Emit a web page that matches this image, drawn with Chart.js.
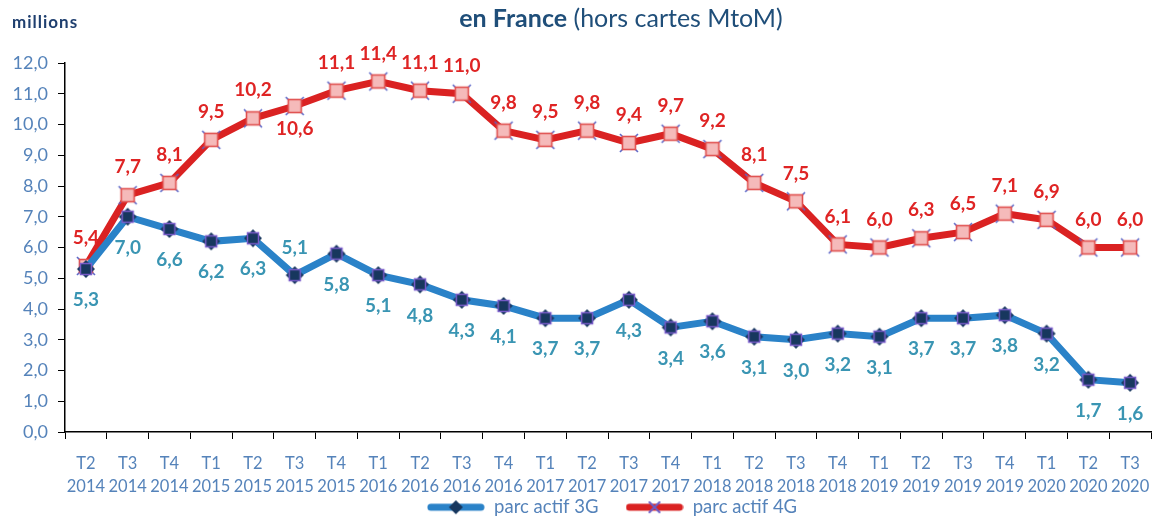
<!DOCTYPE html>
<html>
<head>
<meta charset="utf-8">
<script src="https://cdn.jsdelivr.net/npm/chart.js@4.4.1/dist/chart.umd.min.js"></script>
<style>
  html, body { margin: 0; padding: 0; background: #fff; }
  #wrap { position: relative; width: 1168px; height: 518px; }
  #title { position: absolute; top: 2px; left: 0; width: 1242px; text-align: center;
           font-family: Lato, "Open Sans", sans-serif; font-size: 25px; color: #1F4E79; }
  #title b { font-weight: 700; }
  #unit { position: absolute; top: 11px; left: 12px; font-family: Lato, sans-serif;
          font-weight: 700; font-size: 17px; letter-spacing: 1px; color: #1F3F6F; }
  canvas { position: absolute; top: 0; left: 0; }
</style>
</head>
<body>
<div id="wrap">
  <canvas id="c" width="1168" height="518"></canvas>
  <div id="title"><b>en France</b> (hors cartes MtoM)</div>
  <div id="unit">millions</div>
</div>
<script>
// ---- data ----
const quarters = ['T2','T3','T4','T1','T2','T3','T4','T1','T2','T3','T4','T1','T2','T3','T4','T1','T2','T3','T4','T1','T2','T3','T4','T1','T2','T3'];
const years    = ['2014','2014','2014','2015','2015','2015','2015','2016','2016','2016','2016','2017','2017','2017','2017','2018','2018','2018','2018','2019','2019','2019','2019','2020','2020','2020'];
const parc3G = [5.3, 7.0, 6.6, 6.2, 6.3, 5.1, 5.8, 5.1, 4.8, 4.3, 4.1, 3.7, 3.7, 4.3, 3.4, 3.6, 3.1, 3.0, 3.2, 3.1, 3.7, 3.7, 3.8, 3.2, 1.7, 1.6];
const parc4G = [5.4, 7.7, 8.1, 9.5, 10.2, 10.6, 11.1, 11.4, 11.1, 11.0, 9.8, 9.5, 9.8, 9.4, 9.7, 9.2, 8.1, 7.5, 6.1, 6.0, 6.3, 6.5, 7.1, 6.9, 6.0, 6.0];
const seriesNames = ['parc actif 3G', 'parc actif 4G'];
const yTicks = [0,1,2,3,4,5,6,7,8,9,10,11,12];

const labels = quarters.map((q, i) => [q, years[i]]);
const fmt = v => v.toFixed(1).replace('.', ',');

// ---- marker images ----
function mk(w, h, draw) { const c = document.createElement('canvas'); c.width = w; c.height = h; draw(c.getContext('2d'), w, h); return c; }
function draw3G(ctx, cx, cy) {
  ctx.fillStyle = '#17375E';
  ctx.beginPath(); ctx.moveTo(cx, cy - 9); ctx.lineTo(cx + 9, cy); ctx.lineTo(cx, cy + 9); ctx.lineTo(cx - 9, cy); ctx.closePath(); ctx.fill();
  ctx.fillStyle = '#17375E'; ctx.strokeStyle = '#7A5CCB'; ctx.lineWidth = 1.5;
  ctx.fillRect(cx - 5.5, cy - 5.5, 11, 11); ctx.strokeRect(cx - 5.5, cy - 5.5, 11, 11);
}
function draw4G(ctx, cx, cy) {
  ctx.strokeStyle = '#5A66C8'; ctx.lineWidth = 1.6;
  ctx.beginPath(); ctx.moveTo(cx - 9, cy - 9); ctx.lineTo(cx + 9, cy + 9); ctx.moveTo(cx + 9, cy - 9); ctx.lineTo(cx - 9, cy + 9); ctx.stroke();
  ctx.fillStyle = '#F5BABA'; ctx.strokeStyle = '#E0504F'; ctx.lineWidth = 1.6;
  ctx.fillRect(cx - 6.5, cy - 6.5, 13, 13); ctx.strokeRect(cx - 6.5, cy - 6.5, 13, 13);
}
const m3G = mk(20, 20, (c) => draw3G(c, 10, 10));
const m4G = mk(22, 22, (c) => draw4G(c, 11, 11));
const leg3G = mk(58, 20, (c) => { c.strokeStyle = '#2A82C8'; c.lineWidth = 7; c.lineCap = 'round'; c.beginPath(); c.moveTo(4, 10); c.lineTo(54, 10); c.stroke();
  c.fillStyle = '#17375E'; c.beginPath(); c.moveTo(29, 3); c.lineTo(36, 10); c.lineTo(29, 17); c.lineTo(22, 10); c.closePath(); c.fill(); });
const leg4G = mk(58, 20, (c) => { c.strokeStyle = '#DA2222'; c.lineWidth = 7; c.lineCap = 'round'; c.beginPath(); c.moveTo(4, 10); c.lineTo(54, 10); c.stroke();
  c.strokeStyle = '#6A5CC8'; c.lineWidth = 2; c.beginPath(); c.moveTo(24, 5); c.lineTo(34, 15); c.moveTo(34, 5); c.lineTo(24, 15); c.stroke(); });

const FONT = 'Lato, "Open Sans", sans-serif';
const TICK_COLOR = '#5583BA';
const flipIdx = [5];

const valueLabels = {
  id: 'valueLabels',
  afterDatasetsDraw(chart) {
    const ctx = chart.ctx;
    ctx.save();
    ctx.font = 'bold 19px ' + FONT;
    ctx.textAlign = 'center';
    ctx.textBaseline = 'middle';
    chart.data.datasets.forEach((ds, di) => {
      const meta = chart.getDatasetMeta(di);
      meta.data.forEach((pt, i) => {
        let below = ds.labelBelow;
        if (flipIdx.includes(i)) below = !below;
        const dy = below ? (di === 0 ? 31 : 23) : (di === 0 ? -27 : -28);
        ctx.fillStyle = ds.labelColor;
        ctx.fillText(fmt(ds.data[i]), pt.x, pt.y + dy);
      });
    });
    ctx.restore();
  }
};

// move the legend box to where the reference places it
const legendPlace = {
  id: 'legendPlace',
  beforeDraw(chart) {
    const lg = chart.legend;
    if (!lg) return;
    const dx = 31;
    lg.left += dx; lg.right += dx;
    const h = 47;
    lg.top = 471; lg.bottom = lg.top + h; lg.height = h;
  }
};

new Chart(document.getElementById('c'), {
  type: 'line',
  data: {
    labels: labels,
    datasets: [
      { label: seriesNames[0], data: parc3G, borderColor: '#2A82C8', backgroundColor: '#2A82C8', borderWidth: 7,
        pointStyle: m3G, pointRadius: 9, pointHoverRadius: 9, tension: 0, labelBelow: true, labelColor: '#3A95B3', legendImg: leg3G },
      { label: seriesNames[1], data: parc4G, borderColor: '#DA2222', backgroundColor: '#DA2222', borderWidth: 7,
        pointStyle: m4G, pointRadius: 10, pointHoverRadius: 10, tension: 0, labelBelow: false, labelColor: '#DF2424', legendImg: leg4G }
    ]
  },
  options: {
    responsive: false,
    animation: false,
    events: [],
    layout: { padding: { top: 63, right: 6, left: 0, bottom: 0 } },
    scales: {
      x: {
        offset: true,
        grid: { display: true, drawOnChartArea: false, offset: true, tickLength: 7, color: '#000', tickColor: '#000' },
        border: { display: true, color: '#000', width: 1.5 },
        ticks: { color: TICK_COLOR, font: { family: FONT, size: 16.5, lineHeight: 1.4 }, padding: 13, maxRotation: 0, autoSkip: false },
        afterFit: (s) => { s.height = 62; }
      },
      y: {
        min: 0, max: 12,
        afterBuildTicks: (s) => { s.ticks = yTicks.map(v => ({ value: v })); },
        grid: { display: true, drawOnChartArea: false, tickLength: 7, color: '#000', tickColor: '#000' },
        border: { display: true, color: '#000', width: 1.5 },
        ticks: { color: TICK_COLOR, font: { family: FONT, size: 18 }, padding: 10, callback: (v) => fmt(v) },
        afterFit: (s) => { s.width = 65; }
      }
    },
    plugins: {
      title: { display: false },
      tooltip: { enabled: false },
      legend: {
        position: 'bottom',
        maxHeight: 24,
        labels: {
          color: TICK_COLOR, font: { family: FONT, size: 18.5 }, usePointStyle: true, pointStyleWidth: 58, padding: 27,
          generateLabels: (chart) => chart.data.datasets.map((ds, i) => ({
            text: ds.label, pointStyle: ds.legendImg, fillStyle: ds.borderColor, strokeStyle: ds.borderColor,
            lineWidth: 0, hidden: false, datasetIndex: i, fontColor: TICK_COLOR
          }))
        }
      }
    }
  },
  plugins: [valueLabels, legendPlace]
});
</script>
</body>
</html>
